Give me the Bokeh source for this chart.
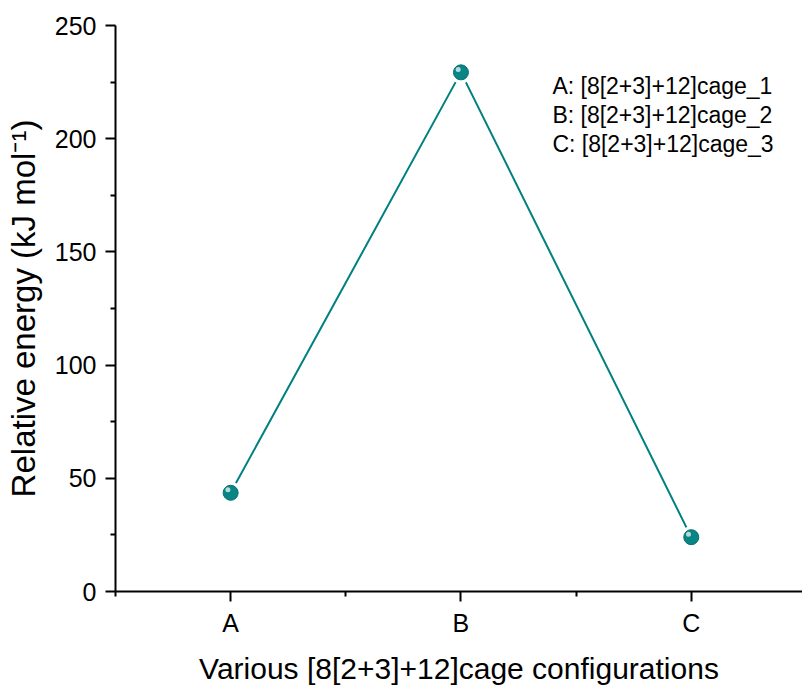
from bokeh.plotting import figure
from bokeh.models import FixedTicker, Range1d, Label, ColumnDataSource
from bokeh.embed import file_html
from bokeh.resources import INLINE
from bokeh.transform import dodge

# ---- data ----
categories = ["A", "B", "C"]
positions = [1, 2, 3]
energies = [43.6, 229.3, 24.0]
y_ticks = [0, 50, 100, 150, 200, 250]
y_minor = [25, 75, 125, 175, 225]
legend_lines = ["A: [8[2+3]+12]cage_1", "B: [8[2+3]+12]cage_2", "C: [8[2+3]+12]cage_3"]
x_title = "Various [8[2+3]+12]cage configurations"
y_title = "Relative energy (kJ mol\u207B\u00B9)"

FONT = "Liberation Sans"
TEAL = "#008080"

src = ColumnDataSource(dict(x=positions, y=energies))

p = figure(width=802, height=688, output_backend="svg", toolbar_location=None,
           x_range=Range1d(0.5, 3.483), y_range=Range1d(0, 250))
p.min_border_left = 115
p.min_border_right = 0
p.min_border_top = 25
p.min_border_bottom = 97
p.outline_line_color = None
p.background_fill_color = "white"
p.border_fill_color = "white"
p.grid.visible = False

p.line("x", "y", source=src, line_color=TEAL, line_width=2)
# white halo to leave a gap between line and ball
p.scatter("x", "y", source=src, size=22, fill_color="white", line_color=None)
p.scatter("x", "y", source=src, size=15, fill_color="#0a8585",
          line_color="#06706f", line_width=1)
p.scatter(dodge("x", -0.012, range=p.x_range), dodge("y", 1.3, range=p.y_range),
          source=src, size=5, fill_color="white", fill_alpha=0.7, line_color=None)

for ax in (p.xaxis[0], p.yaxis[0]):
    ax.axis_line_width = 2
    ax.major_tick_line_width = 2
    ax.minor_tick_line_width = 2
    ax.major_tick_in = 0
    ax.major_tick_out = 10
    ax.minor_tick_in = 0
    ax.minor_tick_out = 5
    ax.major_label_text_font = FONT
    ax.major_label_text_font_size = "25px"
    ax.major_label_text_color = "black"
    ax.axis_label_text_font = FONT
    ax.axis_label_text_font_size = "30px"
    ax.axis_label_text_font_style = "normal"
    ax.axis_label_text_color = "black"
    ax.axis_line_color = "black"
    ax.major_tick_line_color = "black"
    ax.minor_tick_line_color = "black"

p.xaxis.ticker = FixedTicker(ticks=positions, minor_ticks=[0.5, 1.5, 2.5, 3.5])
p.xaxis.major_label_overrides = {pos: c for pos, c in zip(positions, categories)}
p.xaxis.axis_label = x_title
p.xaxis.major_label_standoff = 7
p.xaxis.axis_label_standoff = 12

p.yaxis.ticker = FixedTicker(ticks=y_ticks, minor_ticks=y_minor)
p.yaxis.axis_label = y_title
p.yaxis.axis_label_text_font_size = "33px"
p.yaxis.major_label_standoff = 9
p.yaxis.axis_label_standoff = 10

for i, t in enumerate(legend_lines):
    p.add_layout(Label(x=2.397, y=223.1 - i * 12.7, text=t, text_font=FONT,
                       text_font_size="23px", text_color="black",
                       text_baseline="middle"))

open("out.html", "w").write(file_html(p, INLINE))
